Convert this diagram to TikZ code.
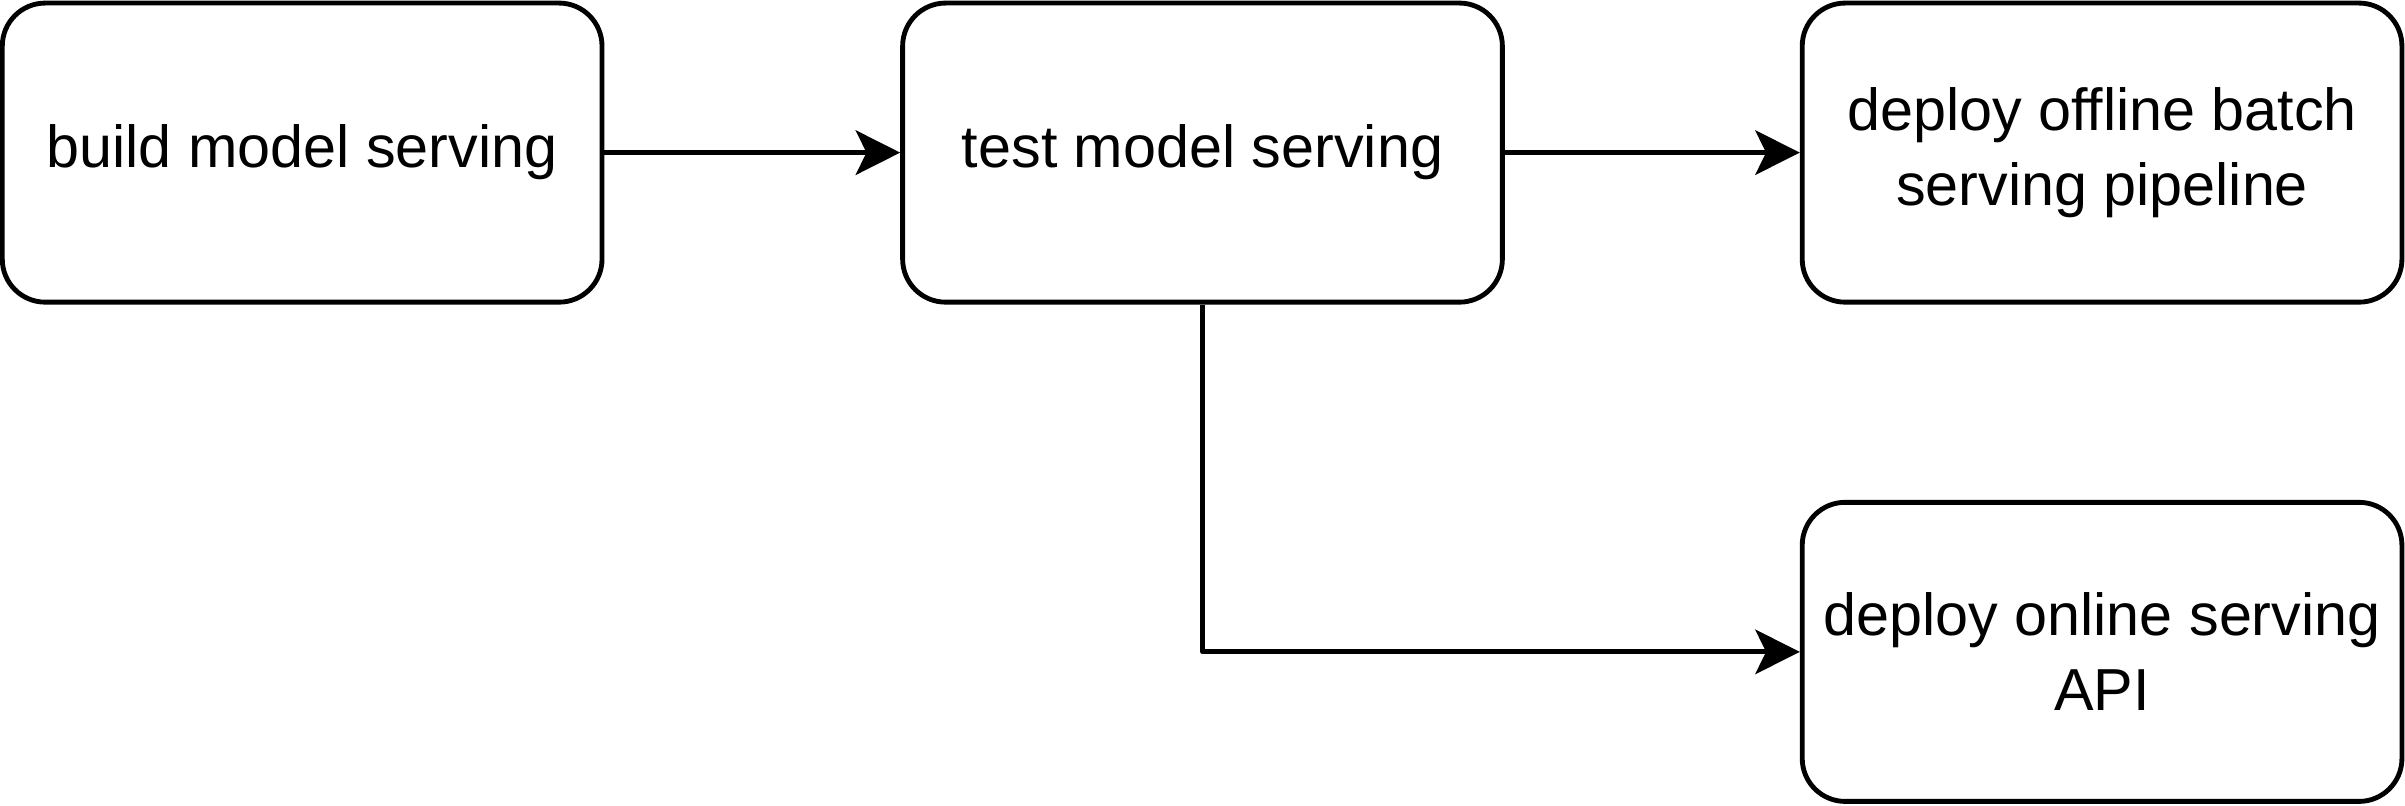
\documentclass[tikz,border=0pt]{standalone}
\usepackage{fontspec}
\setmainfont{Liberation Sans}
\usetikzlibrary{arrows.meta}
\begin{document}
\begin{tikzpicture}[x=1mm, y=1mm, line width=0.9pt, line join=round,
  font=\fontsize{11}{13.9}\selectfont,
  >={Stealth[length=2.9mm, width=2.9mm, inset=0.7mm]},
  box/.style={draw, rounded corners=2.8mm, minimum width=39.1mm, minimum height=19.5mm, align=center, inner sep=0pt}]
\useasboundingbox (0,0) rectangle (156.8,52.5);
% Knoten
\node[box] (build) at (19.7,42.55) {build model serving};
\node[box] (test) at (78.4,42.55) {test model serving};
\node[box] (batch) at (137.05,42.55) {deploy offline batch\\serving pipeline};
\node[box] (online) at (137.05,10.0) {deploy online serving\\API};
% Pfeile
\draw[->] (build) -- (test);
\draw[->] (test) -- (batch);
\draw[->] (test.south) |- (online.west);
\end{tikzpicture}
\end{document}
